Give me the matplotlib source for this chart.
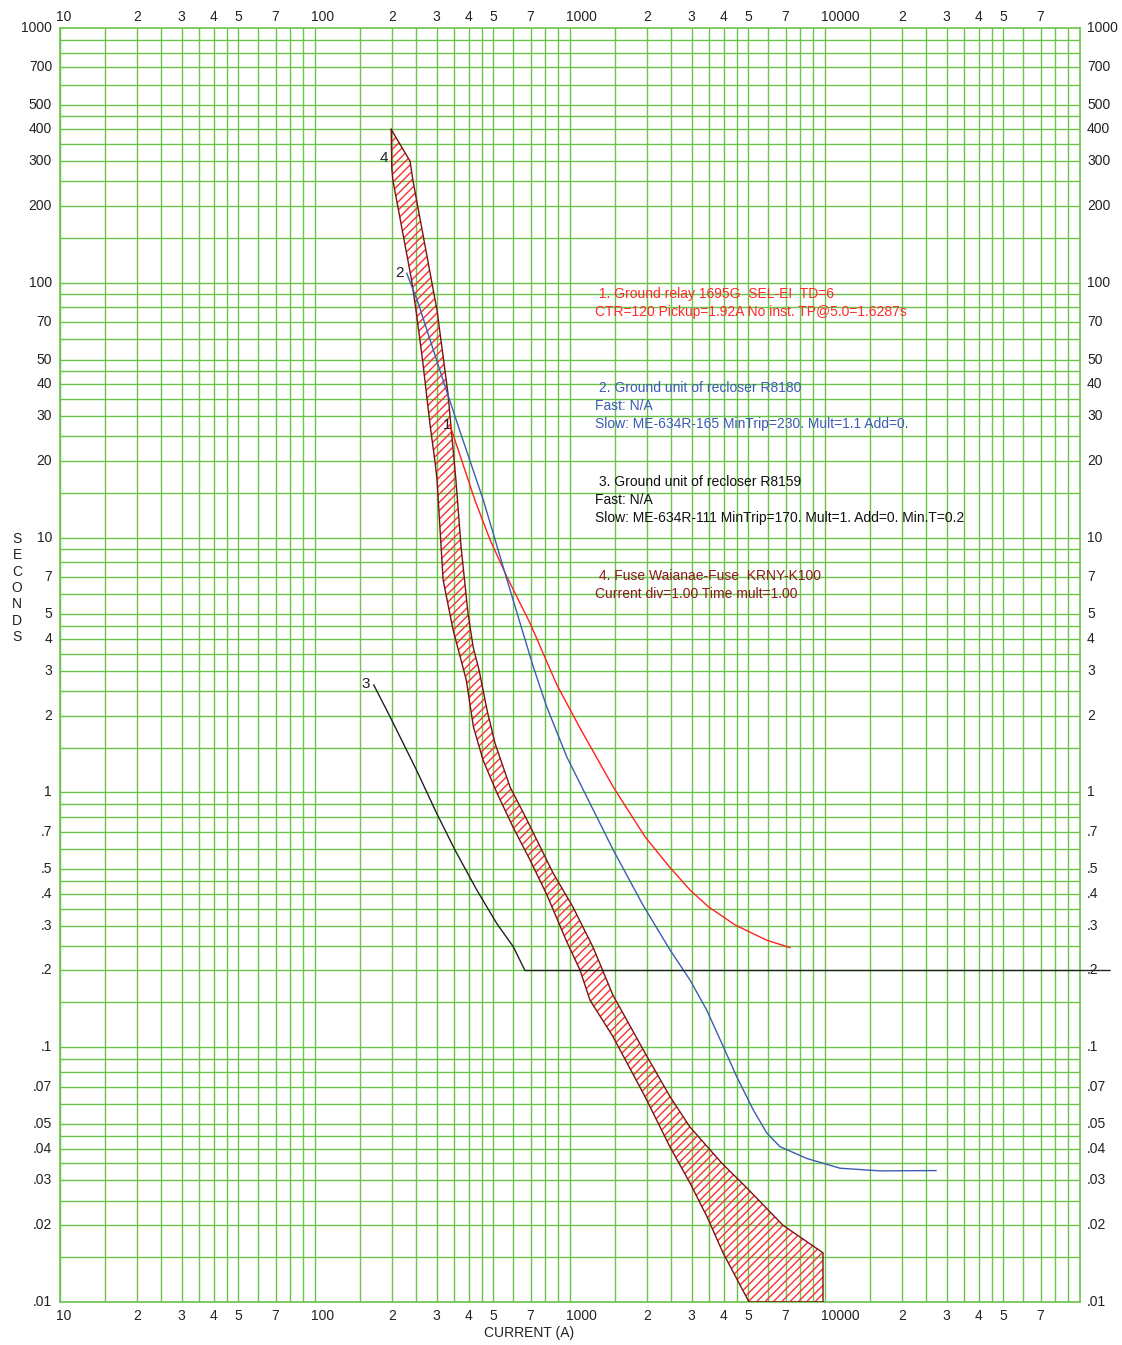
import matplotlib
matplotlib.use("Agg")
import matplotlib.pyplot as plt
from matplotlib.ticker import NullLocator

plt.rcParams['font.family'] = ['Liberation Sans', 'DejaVu Sans']

# ---- curve data: current (A) vs time (s) ----
# 1. ground relay 1695G (SEL-EI, TD=6)
relay_amps = [338, 424, 486, 565, 697, 887, 1094, 1478, 1968, 2467, 2955, 3487, 4437, 5907, 7290]
relay_secs = [27.7, 14.0, 9.8, 7.03, 4.62, 2.65, 1.79, 1.05, 0.67, 0.507, 0.414, 0.356, 0.302, 0.263, 0.246]

# 2. recloser R8180 ground unit, slow curve
r8180_amps = [229, 254, 324, 369, 457, 556, 637, 718, 810, 971, 1478, 1933, 2467, 2955, 3436,
              3992, 4506, 5234, 5907, 6660, 8477, 11450, 16440, 27240]
r8180_secs = [109, 83.3, 39.1, 26.4, 14.05, 7.26, 4.62, 3.11, 2.17, 1.38, 0.594, 0.361, 0.241, 0.1835, 0.14,
              0.1005, 0.0766, 0.0567, 0.0461, 0.0407, 0.0366, 0.0335, 0.0327, 0.0328]

# 3. recloser R8159 ground unit, slow curve (min time 0.2 s)
r8159_amps = [170, 197, 250, 300, 354, 431, 516, 599, 666, 131000]
r8159_secs = [2.64, 1.98, 1.224, 0.828, 0.594, 0.414, 0.306, 0.248, 0.2, 0.2]

# 4. fuse KRNY-K100: total clearing (right edge) and minimum melt (left edge)
fuse_clear_amps = [199, 236, 242, 301, 332, 351, 357, 374, 398, 417, 440, 473, 508, 582, 678, 858,
                   1027, 1231, 1474, 1968, 2467, 2955, 3946, 4944, 6843, 9822, 9822]
fuse_clear_secs = [400, 300, 253, 78, 37, 20.2, 16.8, 9.19, 5.06, 3.72, 3.02, 2.1, 1.56, 1.05, 0.78, 0.483,
                   0.355, 0.247, 0.16, 0.095, 0.064, 0.0486, 0.035, 0.028, 0.020, 0.0156, 0.01]
fuse_melt_amps = [199, 200, 202, 239, 249, 265, 282, 296, 301, 318, 348, 392, 418, 456, 517, 598, 697,
                  812, 965, 1094, 1198, 1474, 1968, 2467, 2955, 3446, 3981, 5035]
fuse_melt_secs = [400, 282, 253, 103, 78, 48.4, 28.2, 19.6, 16.8, 6.82, 4.34, 2.76, 1.81, 1.34, 0.995, 0.73,
                  0.543, 0.396, 0.263, 0.201, 0.153, 0.11, 0.064, 0.0406, 0.0293, 0.0216, 0.0156, 0.01]

curve_tags = ['1', '2', '3', '4']
tag_amps = [329, 215, 158.5, 186]
tag_secs = [27.7, 109, 2.66, 309]

legend_lines = [
    (' 1. Ground relay 1695G  SEL-EI  TD=6', '#ff2a2a'),
    ('CTR=120 Pickup=1.92A No inst. TP@5.0=1.6287s', '#ff2a2a'),
    (' 2. Ground unit of recloser R8180', '#3c5cb4'),
    ('Fast: N/A', '#3c5cb4'),
    ('Slow: ME-634R-165 MinTrip=230. Mult=1.1 Add=0.', '#3c5cb4'),
    (' 3. Ground unit of recloser R8159', '#111111'),
    ('Fast: N/A', '#111111'),
    ('Slow: ME-634R-111 MinTrip=170. Mult=1. Add=0. Min.T=0.2', '#111111'),
    (' 4. Fuse Waianae-Fuse  KRNY-K100', '#8b1a1a'),
    ('Current div=1.00 Time mult=1.00', '#8b1a1a'),
]
legend_rows = [294, 312, 388, 406, 424, 482, 500, 518, 576, 594]

grid_mults = [1, 1.5, 2, 2.5, 3, 3.5, 4, 4.5, 5, 6, 7, 8, 9]
label_mults = [1, 2, 3, 4, 5, 7]

GRID = '#6cc24a'
W, H = 1122, 1345

fig = plt.figure(figsize=(W / 100, H / 100), dpi=100)
ax = fig.add_axes([60 / W, 43 / H, 1020 / W, 1274 / H])
ax.set_xscale('log')
ax.set_yscale('log')
ax.set_xlim(10, 1e5)
ax.set_ylim(0.01, 1000)
for axis in (ax.xaxis, ax.yaxis):
    axis.set_major_locator(NullLocator())
    axis.set_minor_locator(NullLocator())
for s in ax.spines.values():
    s.set_color(GRID)
    s.set_linewidth(1.2)

# log paper grid
for dec in [10, 100, 1000, 10000]:
    for m in grid_mults:
        ax.axvline(m * dec, color=GRID, lw=1.0, zorder=0)
for dec in [0.01, 0.1, 1, 10, 100]:
    for m in grid_mults:
        ax.axhline(m * dec, color=GRID, lw=1.0, zorder=0)

# x tick labels, bottom and top
for dec in [10, 100, 1000, 10000]:
    for m in label_mults:
        v = m * dec
        if m == 1:
            txt, ha, dx = str(v), 'left', -4
        else:
            txt, ha, dx = str(m), 'center', 0
        ax.annotate(txt, xy=(v, 0), xycoords=('data', 'axes fraction'), xytext=(dx, -14),
                    textcoords='offset pixels', ha=ha, va='center', fontsize=10, color='#222222')
        ax.annotate(txt, xy=(v, 1), xycoords=('data', 'axes fraction'), xytext=(dx, 11),
                    textcoords='offset pixels', ha=ha, va='center', fontsize=10, color='#222222')


def ylab(v):
    if v >= 1:
        return str(int(round(v)))
    return ('%g' % v).lstrip('0')


yvals = [m * dec for dec in [0.01, 0.1, 1, 10, 100] for m in label_mults] + [1000]
for v in yvals:
    ax.annotate(ylab(v), xy=(0, v), xycoords=('axes fraction', 'data'), xytext=(-8, 0),
                textcoords='offset pixels', ha='right', va='center', fontsize=10, color='#222222')
    ax.annotate(ylab(v), xy=(1, v), xycoords=('axes fraction', 'data'), xytext=(7, 0),
                textcoords='offset pixels', ha='left', va='center', fontsize=10, color='#222222')

# fuse band
poly_x = fuse_clear_amps + fuse_melt_amps[::-1]
poly_y = fuse_clear_secs + fuse_melt_secs[::-1]
ax.fill(poly_x, poly_y, facecolor='none', edgecolor='#ff3030', lw=0, hatch='////', zorder=2)
ax.plot(poly_x + poly_x[:1], poly_y + poly_y[:1], color='#7a1414', lw=1.0, zorder=3)

ax.plot(relay_amps, relay_secs, color='#ff2020', lw=1.0, zorder=4)
ax.plot(r8180_amps, r8180_secs, color='#3c5cb4', lw=1.0, zorder=4)
ax.plot(r8159_amps, r8159_secs, color='#222222', lw=1.0, zorder=4, clip_on=False)

for t, x, y in zip(curve_tags, tag_amps, tag_secs):
    ax.text(x, y, t, ha='center', va='center', fontsize=11, color='#222222', zorder=5)

for (txt, col), row in zip(legend_lines, legend_rows):
    fig.text(595 / W, 1 - row / H, txt, ha='left', va='center', fontsize=10, color=col)

fig.text(529 / W, 1 - 1333 / H, 'CURRENT (A)', ha='center', va='center', fontsize=10, color='#222222')
fig.text(17 / W, 1 - 588 / H, '\n'.join('SECONDS'), ha='center', va='center', fontsize=10,
         color='#222222', linespacing=1.22)

fig.savefig('out.png', dpi=100)
